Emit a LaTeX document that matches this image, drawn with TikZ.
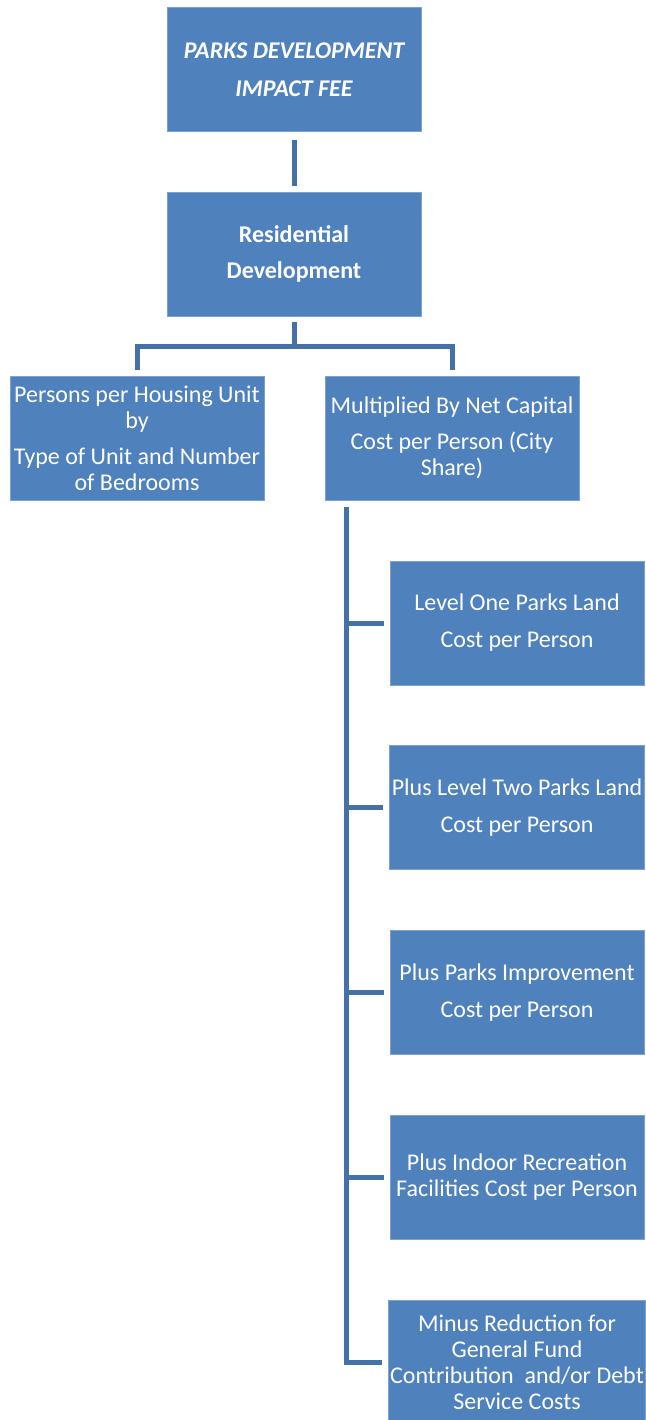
\documentclass[tikz,border=0pt]{standalone}
\usepackage{fontspec}
\setmainfont{Carlito}
\usetikzlibrary{positioning}
\definecolor{boxblue}{RGB}{79,129,189}
\definecolor{edgeblue}{RGB}{125,162,207}
\definecolor{linkblue}{RGB}{68,114,166}
\tikzset{
  block/.style={draw=edgeblue,line width=0.4pt,fill=boxblue,text=white,minimum width=127pt,minimum height=62pt,inner sep=1pt,align=center,font=\fontsize{12}{13}\selectfont},
  headblock/.style={block,font=\fontsize{12}{13}\selectfont\bfseries},
  link/.style={draw=linkblue,line width=2.5pt,line join=miter}
}
\begin{document}
\begin{tikzpicture}[x=0.5pt,y=-0.5pt,node distance=30pt]
\useasboundingbox (0,0) rectangle (646,1420);
\node[headblock] (fee) at (294,69.5) {\itshape PARKS DEVELOPMENT\\[6pt]\itshape IMPACT FEE};
\node[headblock] (res) at (294,254) {Residential\\[5pt]Development};
\node[block] (pph) at (137,438) {Persons per Housing Unit\\by\\[5pt]Type of Unit and Number\\of Bedrooms};
\node[block] (cap) at (452,438) {Multiplied By Net Capital\\[5pt]Cost per Person (City\\Share)};
\node[block] (lvl1) at (517,623) {Level One Parks Land\\[5.5pt]Cost per Person};
\node[block,below=of lvl1] (lvl2) {Plus Level Two Parks Land\\[5.5pt]Cost per Person};
\node[block,below=of lvl2] (imp) {Plus Parks Improvement\\[5.5pt]Cost per Person};
\node[block,below=of imp] (indoor) {Plus Indoor Recreation\\Facilities Cost per Person};
\node[block,below=of indoor] (minus) {Minus Reduction for\\General Fund\\Contribution \ and/or Debt\\Service Costs};
% connectors
\coordinate (fork) at (294,346);
\coordinate[below right=3.5pt and 11pt of cap.south west] (bartop);
\draw[link] ([yshift=-4pt]fee.south) -- ([yshift=3pt]res.north);
\draw[link] ([yshift=-3pt]res.south) -- (fork);
\draw[link] ([yshift=3pt]pph.north) |- (fork) -| ([yshift=3pt]cap.north);
\draw[link] (bartop) |- ([xshift=-3pt]minus.west);
\foreach \b in {lvl1,lvl2,imp,indoor}
  \draw[link] (bartop |- \b.west) -- ([xshift=-3pt]\b.west);
\end{tikzpicture}
\end{document}
